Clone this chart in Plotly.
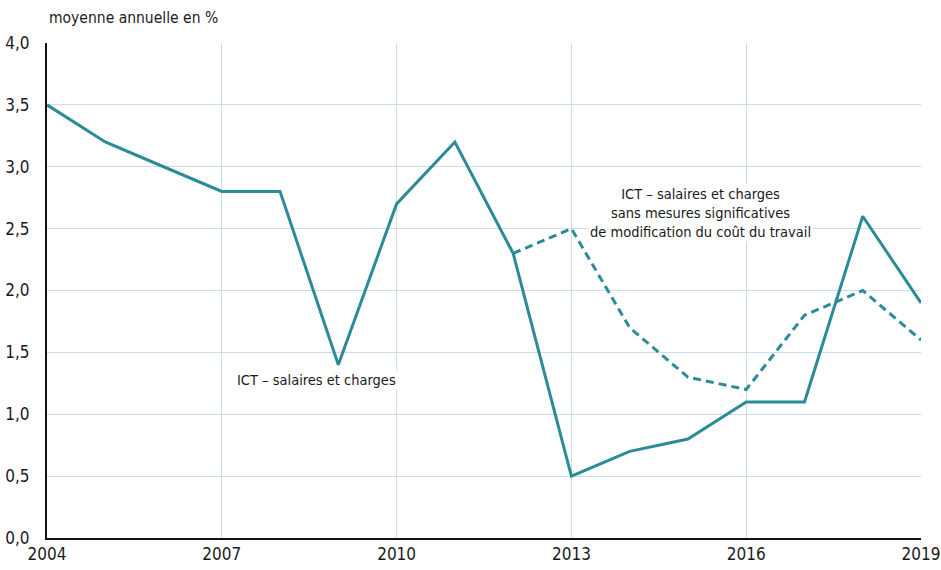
import plotly.graph_objects as go

annees = list(range(2004, 2020))
ict = [3.5, 3.2, 3.0, 2.8, 2.8, 1.4, 2.7, 3.2, 2.3, 0.5, 0.7, 0.8, 1.1, 1.1, 2.6, 1.9]

annees_sans = list(range(2012, 2020))
ict_sans = [2.3, 2.5, 1.7, 1.3, 1.2, 1.8, 2.0, 1.6]

y_ticks = [0, 0.5, 1, 1.5, 2, 2.5, 3, 3.5, 4]
y_labels = ["0,0", "0,5", "1,0", "1,5", "2,0", "2,5", "3,0", "3,5", "4,0"]
x_ticks = [2004, 2007, 2010, 2013, 2016, 2019]

COULEUR = "#2b8b97"
GRILLE = "#cddcf0"
POLICE = "DejaVu Sans Condensed, Roboto, sans-serif"

fig = go.Figure()
fig.add_trace(go.Scatter(
    x=annees, y=ict, mode="lines",
    line=dict(color=COULEUR, width=3),
    name="ICT – salaires et charges",
))
fig.add_trace(go.Scatter(
    x=annees_sans, y=ict_sans, mode="lines",
    line=dict(color=COULEUR, width=3, dash="8px,5px"),
    name="ICT – sans mesures",
))

fig.add_annotation(
    x=2008.63, y=1.28, xref="x", yref="y",
    text="ICT – salaires et charges",
    showarrow=False, font=dict(size=14.5, color="#1a1a1a"),
    bgcolor="white",
)
fig.add_annotation(
    x=2015.22, y=2.63, xref="x", yref="y",
    text="ICT – salaires et charges<br>sans mesures significatives<br>de modification du coût du travail",
    showarrow=False, font=dict(size=14.5, color="#1a1a1a"),
    bgcolor="white", align="center",
)
fig.add_annotation(
    x=0, y=1, xref="paper", yref="paper",
    xanchor="left", yanchor="bottom", yshift=14,
    text="moyenne annuelle en %",
    showarrow=False, font=dict(size=15.5, color="#1a1a1a"),
)

fig.update_layout(
    width=941, height=570,
    margin=dict(l=47, r=20, t=43, b=32),
    plot_bgcolor="white", paper_bgcolor="white",
    font=dict(family=POLICE, size=17, color="#1a1a1a"),
    showlegend=False,
    xaxis=dict(
        range=[2004, 2019], tickvals=x_ticks,
        showgrid=True, gridcolor=GRILLE, gridwidth=1,
        showline=True, linecolor="#111", linewidth=2,
        ticks="", zeroline=False, automargin=False,
        ticklabeloverflow="allow",
    ),
    yaxis=dict(
        range=[0, 4], tickvals=y_ticks, ticktext=y_labels,
        showgrid=True, gridcolor=GRILLE, gridwidth=1,
        showline=True, linecolor="#111", linewidth=2,
        ticks="", zeroline=False, ticklabelstandoff=12, automargin=False,
    ),
)

# retire la marge de 8 px du body pour que la figure occupe toute la fenêtre
fig.write_html(
    "out.html",
    config={"displayModeBar": False},
    post_script="document.body.style.margin='0';",
)
